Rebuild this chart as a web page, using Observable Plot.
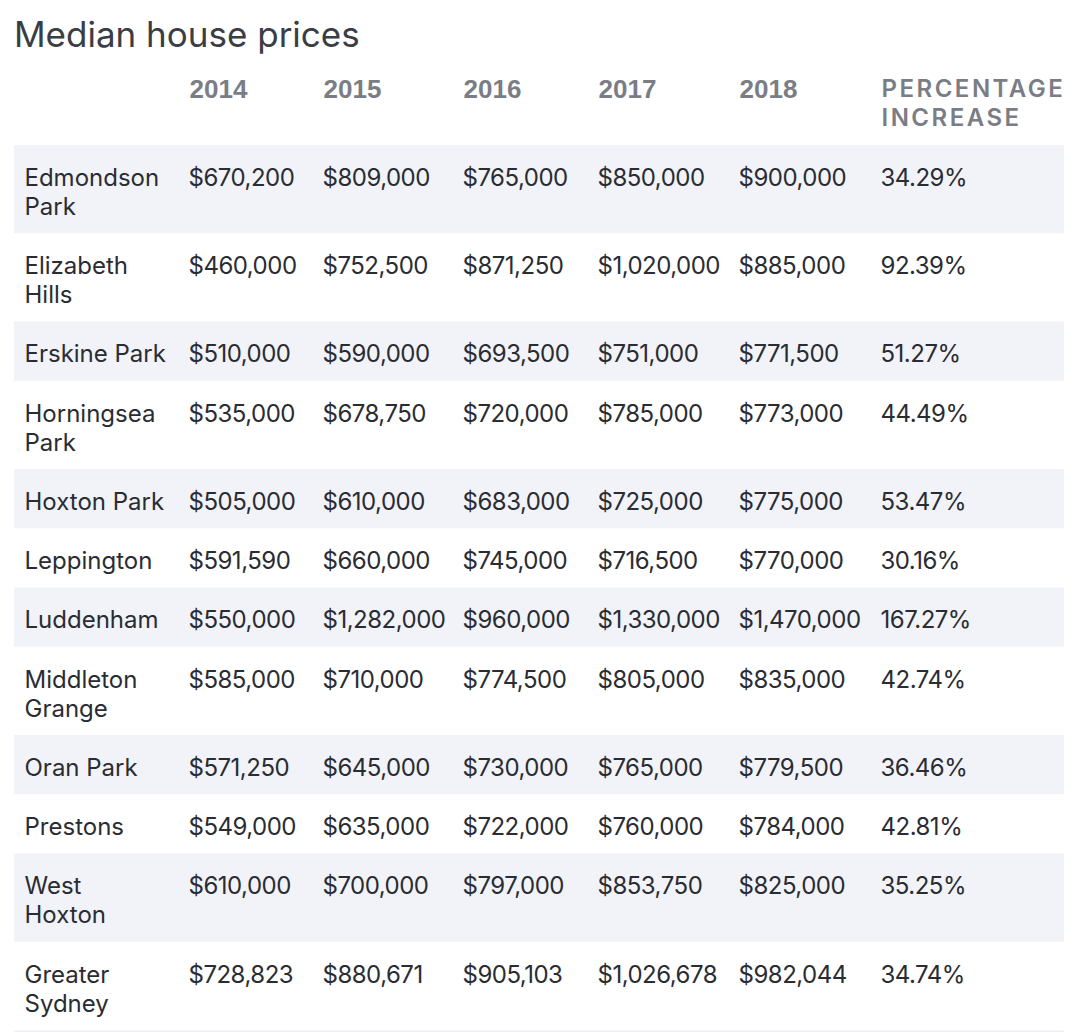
<!DOCTYPE html>
<html>
<head>
<meta charset="utf-8">
<script src="https://cdn.jsdelivr.net/npm/d3@7"></script>
<script src="https://cdn.jsdelivr.net/npm/@observablehq/plot@0.6"></script>
<style>
  html, body { margin: 0; padding: 0; background: #fff; }
  body { width: 1080px; height: 1032px; overflow: hidden; font-family: Inter, "Noto Sans", sans-serif; }
  #title { height: 62px; box-sizing: border-box; padding: 13px 0 0 14px; font-size: 35px; line-height: 42px; color: #3b3d44; font-weight: 400; }
  #chart svg { display: block; }
  #chart text[aria-label="pct-header"] { letter-spacing: 2.5px; }
  #chart text[aria-label="value"] { letter-spacing: -0.5px; }
</style>
</head>
<body>
<div id="title">Median house prices</div>
<div id="chart"></div>
<script>
// ---- data ----
const suburbs = ["Edmondson\nPark", "Elizabeth\nHills", "Erskine Park", "Horningsea\nPark", "Hoxton Park", "Leppington", "Luddenham", "Middleton\nGrange", "Oran Park", "Prestons", "West\nHoxton", "Greater\nSydney"];
const years = ["2014", "2015", "2016", "2017", "2018"];
const price2014 = [670200, 460000, 510000, 535000, 505000, 591590, 550000, 585000, 571250, 549000, 610000, 728823];
const price2015 = [809000, 752500, 590000, 678750, 610000, 660000, 1282000, 710000, 645000, 635000, 700000, 880671];
const price2016 = [765000, 871250, 693500, 720000, 683000, 745000, 960000, 774500, 730000, 722000, 797000, 905103];
const price2017 = [850000, 1020000, 751000, 785000, 725000, 716500, 1330000, 805000, 765000, 760000, 853750, 1026678];
const price2018 = [900000, 885000, 771500, 773000, 775000, 770000, 1470000, 835000, 779500, 784000, 825000, 982044];
const pctIncrease = [34.29, 92.39, 51.27, 44.49, 53.47, 30.16, 167.27, 42.74, 36.46, 42.81, 35.25, 34.74];
const pctHeader = "PERCENTAGE\nINCREASE";

// ---- layout helpers (in line units) ----
const PAD = 1.043;          // vertical padding of a row, in line units
const prices = [price2014, price2015, price2016, price2017, price2018];
const fmtMoney = v => "$" + d3.format(",")(v);
const fmtPct = v => v.toFixed(2) + "%";

let acc = 0;
const rows = suburbs.map((name, i) => {
  const lines = name.split("\n");
  const r = {i, lines, y1: acc, y2: acc + lines.length + PAD};
  acc = r.y2;
  return r;
});
const total = acc;

// every table text as a single line
const cells = [];
rows.forEach(r => {
  const y0 = r.y1 + PAD / 2 + 0.5;
  r.lines.forEach((l, k) => cells.push({col: 0, y: y0 + k, text: l, kind: "label"}));
  prices.forEach((p, c) => cells.push({col: c + 1, y: y0, text: fmtMoney(p[r.i]), kind: "value"}));
  cells.push({col: 6, y: y0, text: fmtPct(pctIncrease[r.i]), kind: "value"});
});

const HEAD0 = -1.93;
const yearHeads = years.map((yr, c) => ({col: c + 1, y: HEAD0, text: yr}));
const pctHeads = pctHeader.split("\n").map((l, k) => ({col: 6, y: HEAD0 + k * 0.98, text: l}));

const shaded = rows.filter(r => r.i % 2 === 0);

const H = 970;
const plot = Plot.plot({
  width: 1080,
  height: H,
  marginLeft: 14,
  marginRight: 16,
  marginTop: 0,
  marginBottom: 0,
  style: {fontFamily: "Inter, 'Noto Sans', sans-serif", background: "#fff"},
  x: {type: "linear", domain: [0, 1, 2, 3, 4, 5, 6], range: [24, 188, 322, 462, 597, 738, 880], axis: null},
  y: {type: "linear", domain: [-83 / 29, (H - 83) / 29], range: [0, H], axis: null},
  marks: [
    Plot.rect(shaded, {y1: "y1", y2: "y2", fill: "#f1f3f8"}),
    Plot.ruleY([total], {stroke: "#eef0f5", strokeWidth: 4, dy: 2}),
    Plot.text(yearHeads, {x: "col", y: "y", text: "text", textAnchor: "start", lineAnchor: "middle",
      fontFamily: "'Liberation Sans', Arial, sans-serif", fontSize: 26, fontWeight: 700, fill: "#7a7d86", dx: 1}),
    Plot.text(pctHeads, {x: "col", y: "y", text: "text", textAnchor: "start", lineAnchor: "middle",
      fontSize: 24, fontWeight: 600, fill: "#7a7d86", dx: 1, ariaLabel: () => "pct-header"}),
    Plot.text(cells, {x: "col", y: "y", text: "text", textAnchor: "start", lineAnchor: "middle",
      fontSize: 24, fill: "#2a2c33", dy: 3, ariaLabel: "kind"})
  ]
});
document.getElementById("chart").appendChild(plot);
</script>
</body>
</html>
